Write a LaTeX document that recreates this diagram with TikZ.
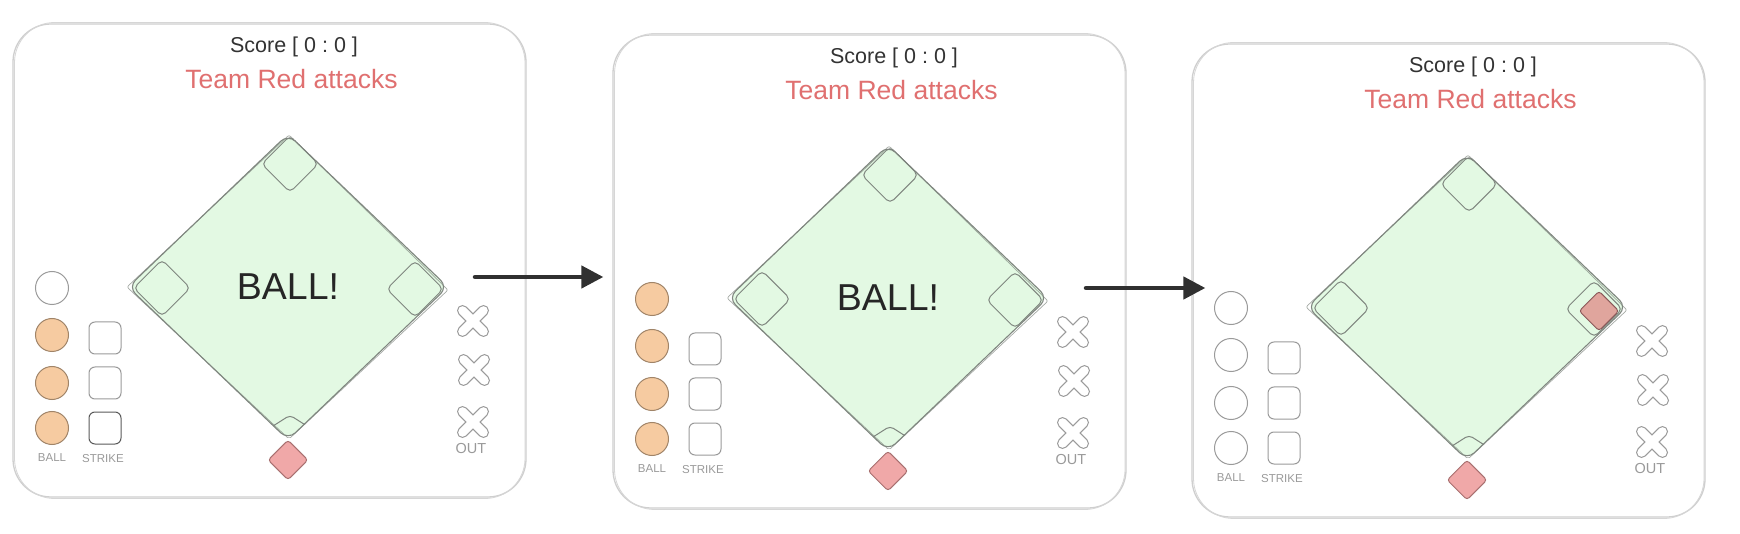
\documentclass[tikz,border=0pt]{standalone}
\usepackage{fontspec}
\setmainfont{Liberation Sans}
\frenchspacing
\usetikzlibrary{arrows.meta,shapes.geometric}
\definecolor{framegray}{HTML}{CFCFCF}
\definecolor{fieldfill}{HTML}{E3F9E3}
\definecolor{fieldline}{HTML}{7F867F}
\definecolor{ballfill}{HTML}{F6CBA1}
\definecolor{ballline}{HTML}{A08468}
\definecolor{softgray}{HTML}{9A9A9A}
\definecolor{darkline}{HTML}{5A5A5A}
\definecolor{teamred}{HTML}{E07070}
\definecolor{runfill}{HTML}{F0A8A8}
\definecolor{runline}{HTML}{A87070}
\definecolor{runfilltwo}{HTML}{E0A59D}
\definecolor{runlinetwo}{HTML}{8A5A5A}
\definecolor{ink}{HTML}{333333}
\definecolor{arrowink}{HTML}{303030}

\tikzset{
  x=1pt, y=-1pt,
  panelframe/.style={draw=framegray, line width=1.3pt, rounded corners=38pt,
    minimum width=513pt, minimum height=473pt, inner sep=0pt},
  framesketch/.style={draw=framegray!85, line width=0.8pt, rounded corners=40pt},
  scoretxt/.style={font=\fontsize{21.5pt}{24pt}\selectfont, text=ink, anchor=base, inner sep=0pt},
  teamtxt/.style={font=\fontsize{26.5pt}{30pt}\selectfont, text=teamred, anchor=base, inner sep=0pt},
  fieldbox/.style={diamond, draw=fieldline, fill=fieldfill, line width=1.1pt,
    rounded corners=10pt, minimum width=320pt, minimum height=306pt, inner sep=0pt},
  fieldsketch/.style={draw=fieldline, line width=0.7pt, rounded corners=2pt, opacity=0.7},
  basebox/.style={draw=fieldline, line width=1pt, rounded corners=5pt,
    minimum size=40pt, rotate=45, inner sep=0pt},
  homebox/.style={diamond, draw=fieldline, line width=1pt, rounded corners=4pt,
    minimum width=50pt, minimum height=32pt, inner sep=0pt},
  runnerbox/.style={draw=runline, fill=runfill, line width=1pt, rounded corners=3pt,
    minimum size=28pt, rotate=45, inner sep=0pt},
  runnertwo/.style={runnerbox, draw=runlinetwo, fill=runfilltwo},
  ballbox/.style={circle, draw=softgray, fill=white, line width=1pt, minimum size=33pt, inner sep=0pt},
  ballon/.style={ballbox, draw=ballline, fill=ballfill},
  strikebox/.style={draw=softgray, line width=1pt, rounded corners=6pt, minimum size=32pt, inner sep=0pt},
  strikedark/.style={strikebox, draw=darkline},
  lbl/.style={font=\fontsize{11.5pt}{13pt}\selectfont, text=softgray, inner sep=0pt},
  outlbl/.style={font=\fontsize{14.5pt}{16pt}\selectfont, text=softgray, inner sep=0pt},
  balltxt/.style={font=\fontsize{37.5pt}{40pt}\selectfont, text=black!85, inner sep=0pt},
  flow/.style={draw=arrowink, line width=4.5pt, line cap=round,
    -{Triangle[length=22pt,width=22pt]}},
  xmark/.pic={
    \draw[line width=11pt, draw=softgray, line cap=round]
      (-10.5,-10.5) -- (10.5,10.5) (-10.5,10.5) -- (10.5,-10.5);
    \draw[line width=8.6pt, draw=white, line cap=round]
      (-10.5,-10.5) -- (10.5,10.5) (-10.5,10.5) -- (10.5,-10.5);
  }
}

% #1,#2 shift; #3 prefix; #4 style of first ball; #5 style of other balls; #6 style of last strike box
\newcommand\drawboard[6]{%
\begin{scope}[shift={(#1,#2)}]
  \node[panelframe] (#3frame) at (269.5,260.5) {};
  \draw[framesketch] (14.5,22.5) rectangle (525,498.5);
  \node[scoretxt] (#3score) at (294,53) {Score [ 0 : 0 ]};
  \node[teamtxt] (#3team) at (291.5,89) {Team Red attacks};
  \node[fieldbox] (#3field) at (288,287) {};
  \draw[fieldsketch] (127,287) -- (289,135) -- (448,290) -- (289,439) -- cycle;
  \begin{scope}
    \clip (#3field.north) -- (#3field.east) -- (#3field.south) -- (#3field.west) -- cycle;
    \node[basebox] (#3tb) at (290,164) {};
    \node[basebox] (#3lb) at (162,288) {};
    \node[basebox] (#3rb) at (415,289) {};
    \node[homebox] (#3hb) at (290,431) {};
  \end{scope}
  \node[runnerbox] (#3home) at (288,460) {};
  \node[#4] (#3b1) at (52,288) {};
  \node[#5] (#3b2) at (52,335) {};
  \node[#5] (#3b3) at (52,383) {};
  \node[#5] (#3b4) at (52,428) {};
  \node[strikebox] (#3s1) at (105,338) {};
  \node[strikebox] (#3s2) at (105,383) {};
  \node[#6] (#3s3) at (105,428) {};
  \node[lbl] (#3balllbl) at (52,458) {BALL};
  \node[lbl] (#3strikelbl) at (103,459) {STRIKE};
  \coordinate (#3x1) at (473,321);
  \coordinate (#3x2) at (474,370);
  \coordinate (#3x3) at (473,422);
  \pic at (#3x1) {xmark};
  \pic at (#3x2) {xmark};
  \pic at (#3x3) {xmark};
  \node[outlbl] (#3out) at (471,449) {OUT};
\end{scope}}

\begin{document}
\begin{tikzpicture}
  \useasboundingbox (0,0) rectangle (1740,534);
  \fill[white] (0,0) rectangle (1740,534);

  \drawboard{0}{0}{p1}{ballbox}{ballon}{strikedark}
  \drawboard{600}{11}{p2}{ballon}{ballon}{strikebox}
  \drawboard{1179}{20}{p3}{ballbox}{ballbox}{strikebox}

  \node[balltxt] (p1call) at (p1field) {BALL!};
  \node[balltxt] (p2call) at (p2field) {BALL!};
  \node[runnertwo] (p3runner) at ([shift={(5,2)}]p3rb) {};

  \coordinate (a1s) at (475,277);
  \coordinate (a2s) at (1086,288);
  \draw[flow] (a1s) -- ([xshift=-9pt]a1s -| p2frame.west);
  \draw[flow] (a2s) -- ([xshift=14pt]a2s -| p3frame.west);
\end{tikzpicture}
\end{document}
